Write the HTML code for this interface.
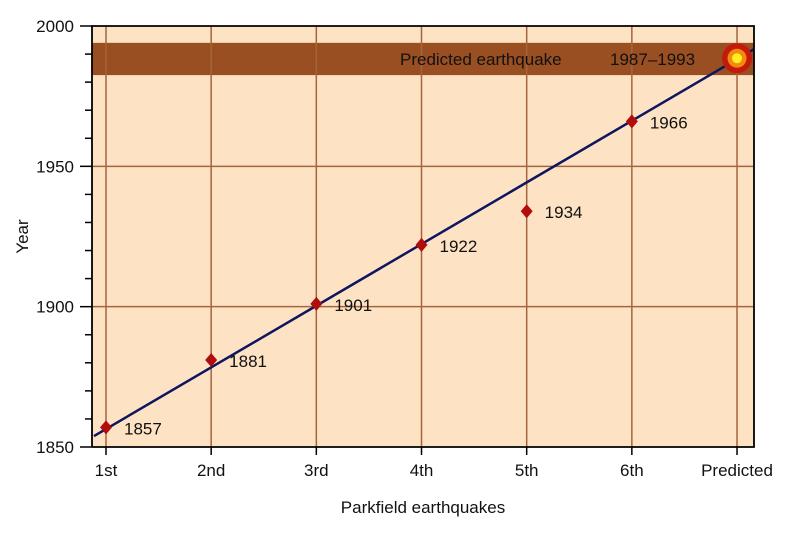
<!DOCTYPE html>
<html><head><meta charset="utf-8"><style>
body{margin:0;background:#fff;}
svg text{font-family:"Liberation Sans",Arial,sans-serif;fill:#111;}
</style></head><body>
<svg id="chart" width="787" height="529" viewBox="0 0 787 529" xmlns="http://www.w3.org/2000/svg"></svg>
<script>
const categories=["1st","2nd","3rd","4th","5th","6th","Predicted"];
const quakeYears=[1857,1881,1901,1922,1934,1966];
const predictedYear=1988.5;
const bandRange=[1982.5,1994];
const bandLabels=["Predicted earthquake","1987\u20131993"];
const lineYears=[1856.4,1988.2];
const yTicks=[1850,1900,1950,2000];
const yMin=1850,yMax=2000;
const L=92,R=754,T=26,B=447;
const x0=106,dx=105.17;
const X=i=>x0+i*dx;
const Y=v=>B-(v-yMin)/(yMax-yMin)*(B-T);
const svg=document.getElementById('chart');
const NS='http://www.w3.org/2000/svg';
function mk(tag,attrs,parent){const e=document.createElementNS(NS,tag);for(const k in attrs)e.setAttribute(k,attrs[k]);(parent||svg).appendChild(e);return e;}
let e;
e=mk('rect',{x:L,y:T,width:R-L,height:B-T,fill:'#fde3c4'});


e=mk('rect',{x:L,y:Y(bandRange[1]),width:R-L,height:Y(bandRange[0])-Y(bandRange[1]),fill:'#9a4f22'});


categories.forEach((c,i)=>{
 e=mk('line',{x1:X(i),x2:X(i),y1:T,y2:B,stroke:'#a4643c','stroke-width':1.5});
 
 
 e=mk('line',{x1:X(i),x2:X(i),y1:B,y2:B+8,stroke:'#000','stroke-width':1.5});
 
 
 e=mk('text',{x:X(i),y:B+29,'text-anchor':'middle','font-size':17});
 e.textContent=c;
 
 
});
yTicks.forEach(v=>{
 if(v>yMin&&v<yMax){e=mk('line',{x1:L,x2:R,y1:Y(v),y2:Y(v),stroke:'#a4643c','stroke-width':1.5});
 
 }
 e=mk('text',{x:74,y:Y(v)+6,'text-anchor':'end','font-size':17});
 e.textContent=v;
 
 
});
for(let v=yMin;v<=yMax;v+=10){
 const major=v%50===0;
 e=mk('line',{x1:major?80:85,x2:L,y1:Y(v),y2:Y(v),stroke:'#000','stroke-width':1.5});
 
 
}
e=mk('text',{x:400,y:Y((bandRange[0]+bandRange[1])/2)+6,'font-size':17});
e.textContent=bandLabels[0];


e=mk('text',{x:610,y:Y((bandRange[0]+bandRange[1])/2)+6,'font-size':17});
e.textContent=bandLabels[1];


const slope=(lineYears[1]-lineYears[0])/6;
const iA=(L+2-x0)/dx,iB=(R-x0)/dx;
e=mk('line',{x1:X(iA),y1:Y(lineYears[0]+slope*iA),x2:X(iB),y2:Y(lineYears[0]+slope*iB),stroke:'#101560','stroke-width':2.5});


quakeYears.forEach((yr,i)=>{
 const cx=X(i),cy=Y(yr);
 e=mk('polygon',{points:`${cx},${cy-7} ${cx+6},${cy} ${cx},${cy+7} ${cx-6},${cy}`,fill:'#b00d0d'});
 
 
 e=mk('text',{x:cx+18,y:cy+7,'font-size':17});
 e.textContent=yr;
 
 
});
const px=X(6),py=Y(predictedYear);
e=mk('circle',{cx:px,cy:py,r:15,fill:'#c41a0a'});


e=mk('circle',{cx:px,cy:py,r:9.5,fill:'#f28a10'});


e=mk('circle',{cx:px,cy:py,r:5,fill:'#ffee22'});


e=mk('polyline',{points:`${L},${B} ${L},${T} ${R},${T} ${R},${B} ${L},${B}`,fill:'none',stroke:'#000','stroke-width':1.8});


e=mk('text',{x:(L+R)/2,y:513,'text-anchor':'middle','font-size':17});
e.textContent='Parkfield earthquakes';


e=mk('text',{x:0,y:0,'text-anchor':'middle','font-size':17,transform:`translate(28,${(T+B)/2}) rotate(-90)`});
e.textContent='Year';


</script>
</body></html>
